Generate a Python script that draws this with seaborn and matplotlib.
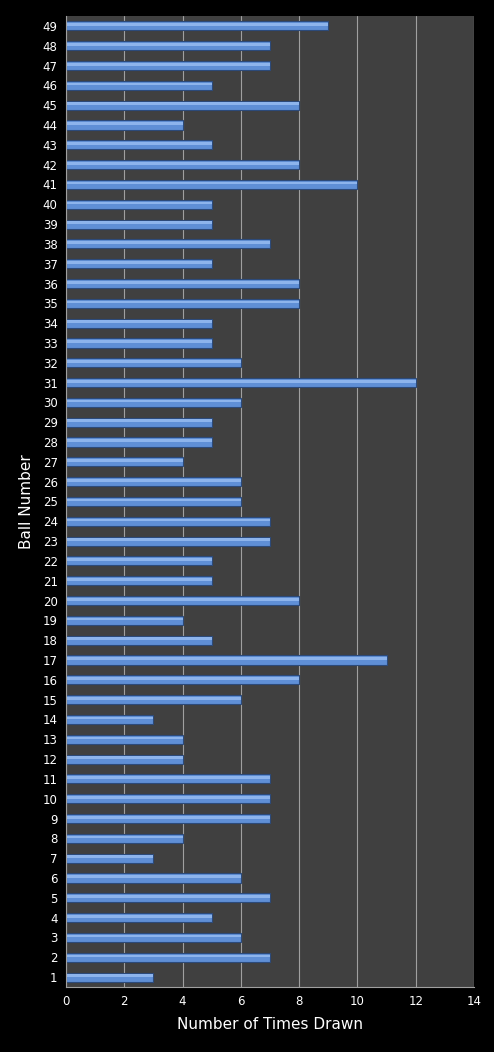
import matplotlib
matplotlib.use("Agg")
import matplotlib.pyplot as plt
import seaborn as sns
import pandas as pd

# ball numbers 1..49 and how often each was drawn
balls = list(range(1, 50))
times_drawn = [3, 7, 6, 5, 7, 6, 3, 4, 7, 7,
               7, 4, 4, 3, 6, 8, 11, 5, 4, 8,
               5, 5, 7, 7, 6, 6, 4, 5, 5, 6,
               12, 6, 5, 5, 8, 8, 5, 7, 5, 5,
               10, 8, 5, 4, 8, 5, 7, 7, 9]
x_ticks = [0, 2, 4, 6, 8, 10, 12, 14]

df = pd.DataFrame({"ball": [str(b) for b in balls], "drawn": times_drawn})
order = [str(b) for b in reversed(balls)]

sns.set_style("dark")
plt.rcParams['font.family'] = ['DejaVu Sans']

fig = plt.figure(figsize=(4.94, 10.52), dpi=100, facecolor="black")
ax = fig.add_axes([0.1336, 0.0618, 0.8259, 0.923])
ax.set_facecolor("#404040")

sns.barplot(data=df, x="drawn", y="ball", order=order, orient="h",
            color="#5f8fd6", edgecolor="#2c4a7a", linewidth=0.8,
            width=0.46, saturation=1, ax=ax)

# lighter strip in the upper half of each bar, like the glossy gradient
for p in list(ax.patches):
    ax.add_patch(plt.Rectangle((p.get_x(), p.get_y() + p.get_height() * 0.2),
                               p.get_width(), p.get_height() * 0.3,
                               facecolor="#8db4ec", edgecolor="none",
                               zorder=p.get_zorder() + 0.1))

ax.set_xlim(0, 14)
ax.set_xticks(x_ticks)
ax.set_ylim(len(order) - 0.5, -0.5)
ax.xaxis.grid(True, color="#a0a0a0", linewidth=0.8)
ax.yaxis.grid(False)
ax.set_axisbelow(True)

for s in ax.spines.values():
    s.set_visible(False)
ax.spines["left"].set_visible(True)
ax.spines["left"].set_color("#a0a0a0")
ax.spines["bottom"].set_visible(True)
ax.spines["bottom"].set_color("#a0a0a0")

ax.tick_params(colors="white", labelsize=8.5, length=0, pad=6)
ax.set_xlabel("Number of Times Drawn", color="white", fontsize=11, labelpad=6)
ax.set_ylabel("Ball Number", color="white", fontsize=11, labelpad=6)

fig.savefig("out.png", dpi=100, facecolor="black")
